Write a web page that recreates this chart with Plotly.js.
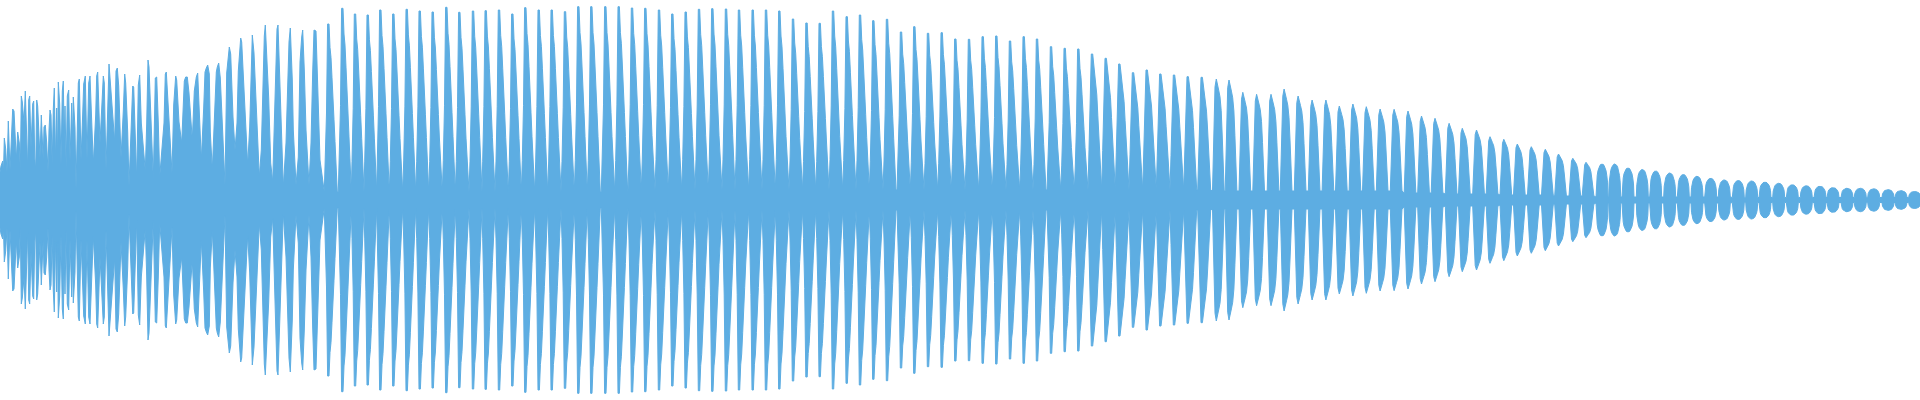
<!DOCTYPE html>
<html><head><meta charset="utf-8">
<script src="https://cdn.plot.ly/plotly-3.0.1.min.js"></script>
<style>html,body{margin:0;padding:0;background:#fff;overflow:hidden}</style>
</head><body><div id="chart" style="width:1920px;height:400px"></div>
<script>
// Irregular attack section: outline vertices (x in px column, amplitude)
const introX = [0,1,2.7,3.5,4.3,5.7,7,8.3,10,11.7,12.7,14,15,16.3,17.7,19.3,20.3,21.3,22.3,24,25.3,26.7,27.7,28.7,29.7,31,32.7,33.7,34.7,35.7,36.7,37.7,39,40,41.3,42.3,43.2,44,45.3,46.7,48,49,50,51,52.2,53.3,54.3,55.5,56.7,57.5,58.3,59.7,61,62.3,63.3,64.2,65,66.2,67.3,68.7,70,71.7,72.5,73.3,75,76,77.7,78.3,79.3,81,82.7,83.7,85.3,87,88.7,90,93.3,95.7,96.7,97.7,100,103.3,104.3,106,109,110.3,114.7,116,117.3,118.7,121,123.3,124.7,125.7,127.7,129,131,132.7,133.7,135.3,136.7,138.3,139.7,141.3,145.3,146.7,148,149,150.7,153.3,155.3,156.7,158.3,159.7,164,165.3,166.3,167.7,170,172,173.7,175.7,176.7,179,181.7,183,184.3,185.7,187.3,189,192.3,194.3,196.3,197.7,200,201.3,203.7,205,206.3,207.7,209.3,210.3,212.3,215,216.3,217.3,218.7,220.3,222.3,225,226.7,228,229.3,230.7,233,235,237,238.3,239.3,240.7,241.7,243.3,245.7,247.7,249.7,251.3,252.3,254,255.7,257.7,259.3,261.3,263,264.3,265.3,266.7,268.7,270.7,272.7,274.7,276,277,278,279.3,281.7,283.3,286,287.3,289,290.3,292.3,293.3,296,298.3,300,301.7,302.7,304.3,306,309,311,312.7,314,316,318.3,320];
const introAmp = [28,34,39,28,62,51,28,79,30,70,91,89,67,40,68,57,28,104,98,77,109,68,30,100,104,52,96,99,43,30,100,94,61,42,85,68,40,73,75,57,28,70,90,85,35,91,112,40,92,40,118,96,35,109,119,60,94,30,104,110,39,97,60,103,72,10,76,117,121,40,86,116,124,40,117,124,36,85,124,128,57,124,117,30,136,117,58,129,132,114,42,89,126,117,68,14,67,114,113,51,20,115,125,77,29,76,140,133,90,20,122,123,77,23,77,126,128,103,53,27,95,124,120,78,57,90,119,123,123,107,60,109,123,127,77,40,92,128,132,135,126,68,30,98,128,133,137,122,75,15,127,145,153,146,83,50,77,129,147,162,158,122,68,35,73,147,165,147,103,53,23,50,117,164,175,148,102,37,18,90,148,171,175,138,77,13,57,107,158,172,120,70,15,43,138,163,170,130,70,15,57,128,170,169,97,40];

// Periodic section: one entry per cycle
const peakX = [328.3,342.3,355,367.7,380.3,393.3,406.7,419.7,432.7,446.3,459.3,473,485.7,499,512.3,525.3,538.7,551.7,565,578.3,591.3,605.3,618.7,
632,645.3,659,672.3,685.7,699,712.3,726,739,752.7,766,779.3,793,806.5,819.7,833,846.7,860,873.3,887,
901,914.3,928,941.7,955.3,969,982.7,996.3,1010,1023.7,1037,1051,1064.7,1078.3,1092,1105.7,1119.3,1133,1146.7,1160.3,1174,1187.7,1201.7,
1216,1228.7,1242.5,1256.3,1270.7,1283.8,1297.8,1311.8,1325.6,1339,1352.6,1366,1379.8,1393.8,
1407.7,1421.2,1434.7,1448.8,1462,1476.2,1489.7,1503.5,1517,1531,1545,1558.2,1572.5,1585.7,
1602,1614.7,1628,1642.3,1655.7,1669.7,1683.3,1697,1710.7,1724.3,1738.3,1751.7,1765,1778.7,1792.3,1806.3,1820,1833,1847,1860.3,1873.7,1888,1901,1914.7];
const peakAmp = [176,191.7,186,185,190,186,190.7,189,188,192.7,187.7,189,189.3,190,186,192.3,190,190,188.3,193.3,193.3,193.3,193.3,
192,191.7,190,186,188,190.7,191.3,191,190,190,190,189,181,177,176.7,189,183.3,185,179.3,180.7,
168,173.3,166.7,167.3,161,160.7,163.3,164,159,163.3,161,153.3,151.7,151,146,141.7,136,127.3,130,126,125,123.3,122.7,
121,120,107.7,105.7,105.7,111,104,100,100,94,96,93.3,91,90.7,
89,84,81.7,76.7,71.7,70,63.3,60.7,56,53.3,50.7,46,41.7,37.7,
36,36,32,30.5,29,27,25.5,23.7,21.7,20,19.5,19,17.8,16.7,15.2,14.2,13.7,12.3,11.7,11.7,11.2,10.3,9.3,8.5];
const baseAmp = [8,8,8,8,8,8,8,8,8,8,8,8,8,8,8,8,8,8,8,8,8,8,8,
10,10,10,10,10,10,10,10,10,10,10,10,10,10,10,10,10,10,10,10,
10,10,10,10,10,10,10,10,10,10,10,10,10,10,10,10,10,10,10,10,10,10,10,
9,9,9,9,9,9,9,9,9,9,9,9,9,9,
7,7,7,6,6,6,6,5,5,5,5,4,4,4,
3,3,3,3,3,3,3,3,3,3,2.5,2.5,2.5,2.5,2.5,2.5,2.5,2.5,2.5,2.5,2.5,2.5,2.5,2.5];
const lobeShape = "sssssssssssssssssssssssssssssssssssssssssssssssssssssssssmmmmmmmmmbbbbbbbbbbbbbbbbbbbbbbbbbbbbrrrrrrrrrrrrrrrrrrrrrrrr".split("");

// Lobe outlines: offset from the peak column, and share of the peak height
const profileDx = {
  s: [-4,-3,-1.8,-0.7,0.7,1.7,2.7,3.7,4.7,5.7,6.7,7.7,9],
  m: [-4,-3,-1.8,-0.7,0.7,1.8,2.8,3.8,4.8,5.8,6.8,7.8,9],
  b: [-3.5,-2.3,-1,0.3,1.5,2.7,4,5.2,6.2,7.2,8.2],
  r: [-6,-5.5,-4.8,-4,-3,-2,-1,0,1,2,3,4,4.8,5.5,6]
};
const profileLevel = {
  s: [0,0.17,0.47,1,1,0.86,0.80,0.68,0.58,0.43,0.30,0.18,0],
  m: [0,0.3,0.75,1,1,0.93,0.87,0.8,0.7,0.55,0.38,0.2,0],
  b: [0,0.4,0.93,1,0.96,0.9,0.84,0.72,0.5,0.28,0],
  r: [0,0.45,0.65,0.8,0.9,0.96,0.99,1,0.99,0.96,0.9,0.8,0.65,0.45,0]
};

const xs = introX.slice();
const amps = introAmp.slice();
peakX.forEach((p, i) => {
  const k = lobeShape[i];
  const dx = profileDx[k], lv = profileLevel[k];
  for (let j = 0; j < dx.length; j++) {
    const x = p + dx[j];
    if (x <= xs[xs.length - 1]) continue;
    xs.push(x);
    amps.push(baseAmp[i] + lv[j] * (peakAmp[i] - baseAmp[i]));
  }
});
const lower = amps.map(a => -a);
const col = '#5DADE2';

Plotly.newPlot('chart', [
  {x: xs, y: amps, type: 'scatter', mode: 'lines', line: {color: col, width: 1}, hoverinfo: 'skip'},
  {x: xs, y: lower, type: 'scatter', mode: 'lines', fill: 'tonexty', fillcolor: col, line: {color: col, width: 1}, hoverinfo: 'skip'}
], {
  width: 1920, height: 400,
  margin: {l: 0, r: 0, t: 0, b: 0, pad: 0},
  xaxis: {range: [0, 1920], visible: false, fixedrange: true},
  yaxis: {range: [-200, 200], visible: false, fixedrange: true},
  showlegend: false,
  paper_bgcolor: '#ffffff', plot_bgcolor: '#ffffff'
}, {displayModeBar: false, staticPlot: true});
</script>
</body></html>
